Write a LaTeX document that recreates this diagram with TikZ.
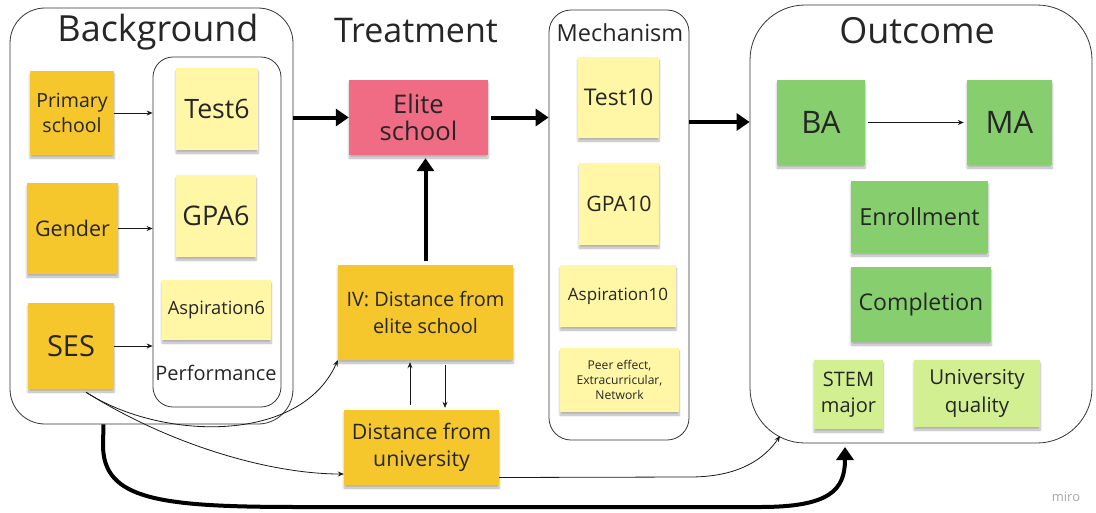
\documentclass[tikz,border=0pt]{standalone}
\usepackage{fontspec}
\setmainfont{Open Sans}
\usepackage{xcolor}
\usepackage{tikz}
\usetikzlibrary{positioning,arrows.meta,shadows.blur}

\definecolor{gold}{HTML}{F5C72C}
\definecolor{paleyellow}{HTML}{FFF7A6}
\definecolor{rosepink}{HTML}{F06C84}
\definecolor{leafgreen}{HTML}{87CF6E}
\definecolor{limegreen}{HTML}{D2EF92}
\newcommand{\sz}[2]{\fontsize{#1}{#2}\selectfont}

\tikzset{
  note/.style={align=center, inner sep=2pt, text=black!85,
    blur shadow={shadow xshift=0pt, shadow yshift=-3pt, shadow blur steps=6, shadow opacity=30}},
  frame/.style={draw=black!80, line width=0.8pt, rounded corners=#1},
  lightarrow/.style={draw=black!90, line width=0.8pt, -{Stealth[length=6pt,width=5pt]}},
  heavyarrow/.style={draw=black, line width=4pt, -{Triangle[length=13pt,width=17pt]}},
}

\begin{document}
\begin{tikzpicture}[x=1pt,y=-1pt]
\useasboundingbox (0,0) rectangle (1096,512);

% frames
\node[frame=35pt, minimum width=283pt, minimum height=416pt] (bg) at (151.5,216) {};
\node[frame=20pt, minimum width=128pt, minimum height=350pt] (perf) at (217,232) {};
\node[frame=22pt, minimum width=140pt, minimum height=430pt] (mech) at (619,225) {};
\node[frame=55pt, minimum width=342pt, minimum height=438pt] (outc) at (921,224) {};

% titles
\node[font=\sz{36}{40}, text=black!85] (bgtitle) at (158,32) {Background};
\node[font=\sz{34}{40}, text=black!85] (trtitle) at (416,31) {Treatment};
\node[font=\sz{36}{40}, text=black!85] (octitle) at (917,31) {Outcome};
\node[font=\sz{23.5}{26}, text=black!85] (mechtitle) at (620,33) {Mechanism};
\node[font=\sz{20}{24}, text=black!85] (perftitle) at (216,373) {Performance};

% background
\node[note, fill=gold, minimum width=84pt, minimum height=84pt, font=\sz{19.5}{25}] (prim) at (72,113) {Primary\\school};
\node[note, fill=gold, minimum width=91pt, minimum height=91pt, font=\sz{21.5}{26}] (gender) at (72.5,228.5) {Gender};
\node[note, fill=gold, minimum width=86pt, minimum height=86pt, font=\sz{29}{33}] (ses) at (71,346) {SES};
\node[note, fill=paleyellow, minimum width=82pt, minimum height=82pt, font=\sz{26.7}{30}] (test6) at (217,109) {Test6};
\node[note, fill=paleyellow, minimum width=80pt, minimum height=82pt, font=\sz{27}{30}] (gpa6) at (216,216) {GPA6};
\node[note, fill=paleyellow, minimum width=109pt, minimum height=60pt, font=\sz{18.3}{22}] (asp6) at (216.5,310) {Aspiration6};

% treatment
\node[note, fill=rosepink, minimum width=139pt, minimum height=75pt, font=\sz{25.6}{27}] (elite) at (418.5,117.5) {Elite\\school};
\node[note, fill=gold, minimum width=175pt, minimum height=95pt, font=\sz{19.9}{27}] (iv) at (425.5,312.5) {IV: Distance from\\elite school};
\node[note, fill=gold, minimum width=155pt, minimum height=75pt, font=\sz{21.3}{27}] (univ) at (421.5,447.5) {Distance from\\university};

% mechanism
\node[note, fill=paleyellow, minimum width=81pt, minimum height=81pt, font=\sz{23}{26}] (test10) at (618.5,97.5) {Test10};
\node[note, fill=paleyellow, minimum width=80pt, minimum height=82pt, font=\sz{21.3}{26}] (gpa10) at (619,204) {GPA10};
\node[note, fill=paleyellow, minimum width=116pt, minimum height=62pt, font=\sz{17}{20}] (asp10) at (618,296) {Aspiration10};
\node[note, fill=paleyellow, minimum width=119pt, minimum height=64pt, font=\sz{12.1}{15}] (peer) at (619.5,380) {Peer effect,\\Extracurricular,\\Network};

% outcome
\node[note, fill=leafgreen, minimum width=88pt, minimum height=85pt, font=\sz{31}{34}] (ba) at (821,122.5) {BA};
\node[note, fill=leafgreen, minimum width=85pt, minimum height=85pt, font=\sz{31}{34}] (ma) at (1009.5,122.5) {MA};
\node[note, fill=leafgreen, minimum width=137pt, minimum height=72pt, font=\sz{23.5}{26}] (enroll) at (919.5,217) {Enrollment};
\node[note, fill=leafgreen, minimum width=140pt, minimum height=75pt, font=\sz{23}{26}] (compl) at (921,304.5) {Completion};
\node[note, fill=limegreen, minimum width=69pt, minimum height=69pt, font=\sz{20}{26}] (stem) at (848.5,394.5) {STEM\\major};
\node[note, fill=limegreen, minimum width=126pt, minimum height=67pt, font=\sz{20.5}{28}] (uq) at (977,393.5) {University\\quality};

\node[font=\sz{13}{15}, text=black!35] (miro) at (1066,497) {miro};

% arrows
\draw[lightarrow] (prim.east) -- (prim.east -| perf.west);
\draw[lightarrow] (gender.east) -- (gender.east -| perf.west);
\draw[lightarrow] (ses.east) -- (ses.east -| perf.west);
\draw[lightarrow, shorten <=3pt, shorten >=3pt] (ba) -- (ma);

\draw[heavyarrow] (bg.east |- elite.west) -- (elite.west);
\draw[heavyarrow, shorten <=3pt] (elite.east) -- (elite.east -| mech.west);
\draw[heavyarrow] (mech.east |- 0,122) -- (outc.west |- 0,122);
\draw[heavyarrow, shorten <=4pt, shorten >=3pt] (iv.north) -- (iv.north |- elite.south);

\draw[lightarrow, shorten <=5pt, shorten >=2pt] ([xshift=-11.5pt]univ.north) -- ([xshift=-11.5pt]univ.north |- iv.south);
\draw[lightarrow, shorten <=5pt, shorten >=2pt] ([xshift=19.5pt]iv.south) -- ([xshift=19.5pt]iv.south |- univ.north);

\coordinate (sesfoot) at ([xshift=15pt,yshift=-3pt]ses.south);
\draw[lightarrow] (sesfoot) .. controls (160,440) and (300,445) .. (iv.south west);
\draw[lightarrow] (sesfoot) .. controls (170,445) and (270,474) .. (univ.west |- 0,474);

\coordinate (ocorner) at (780,436);
\draw[lightarrow] ([yshift=-30pt]univ.east) -- (690,477) .. controls (740,477) and (765,458) .. (ocorner);

\coordinate (ocbottom) at (845,447);
\draw[heavyarrow] ([xshift=-48pt]bg.south) -- (103,445) .. controls (103,500) and (160,507) .. (300,507)
  -- (760,507) .. controls (830,507) and (845,490) .. (ocbottom);
\end{tikzpicture}
\end{document}
